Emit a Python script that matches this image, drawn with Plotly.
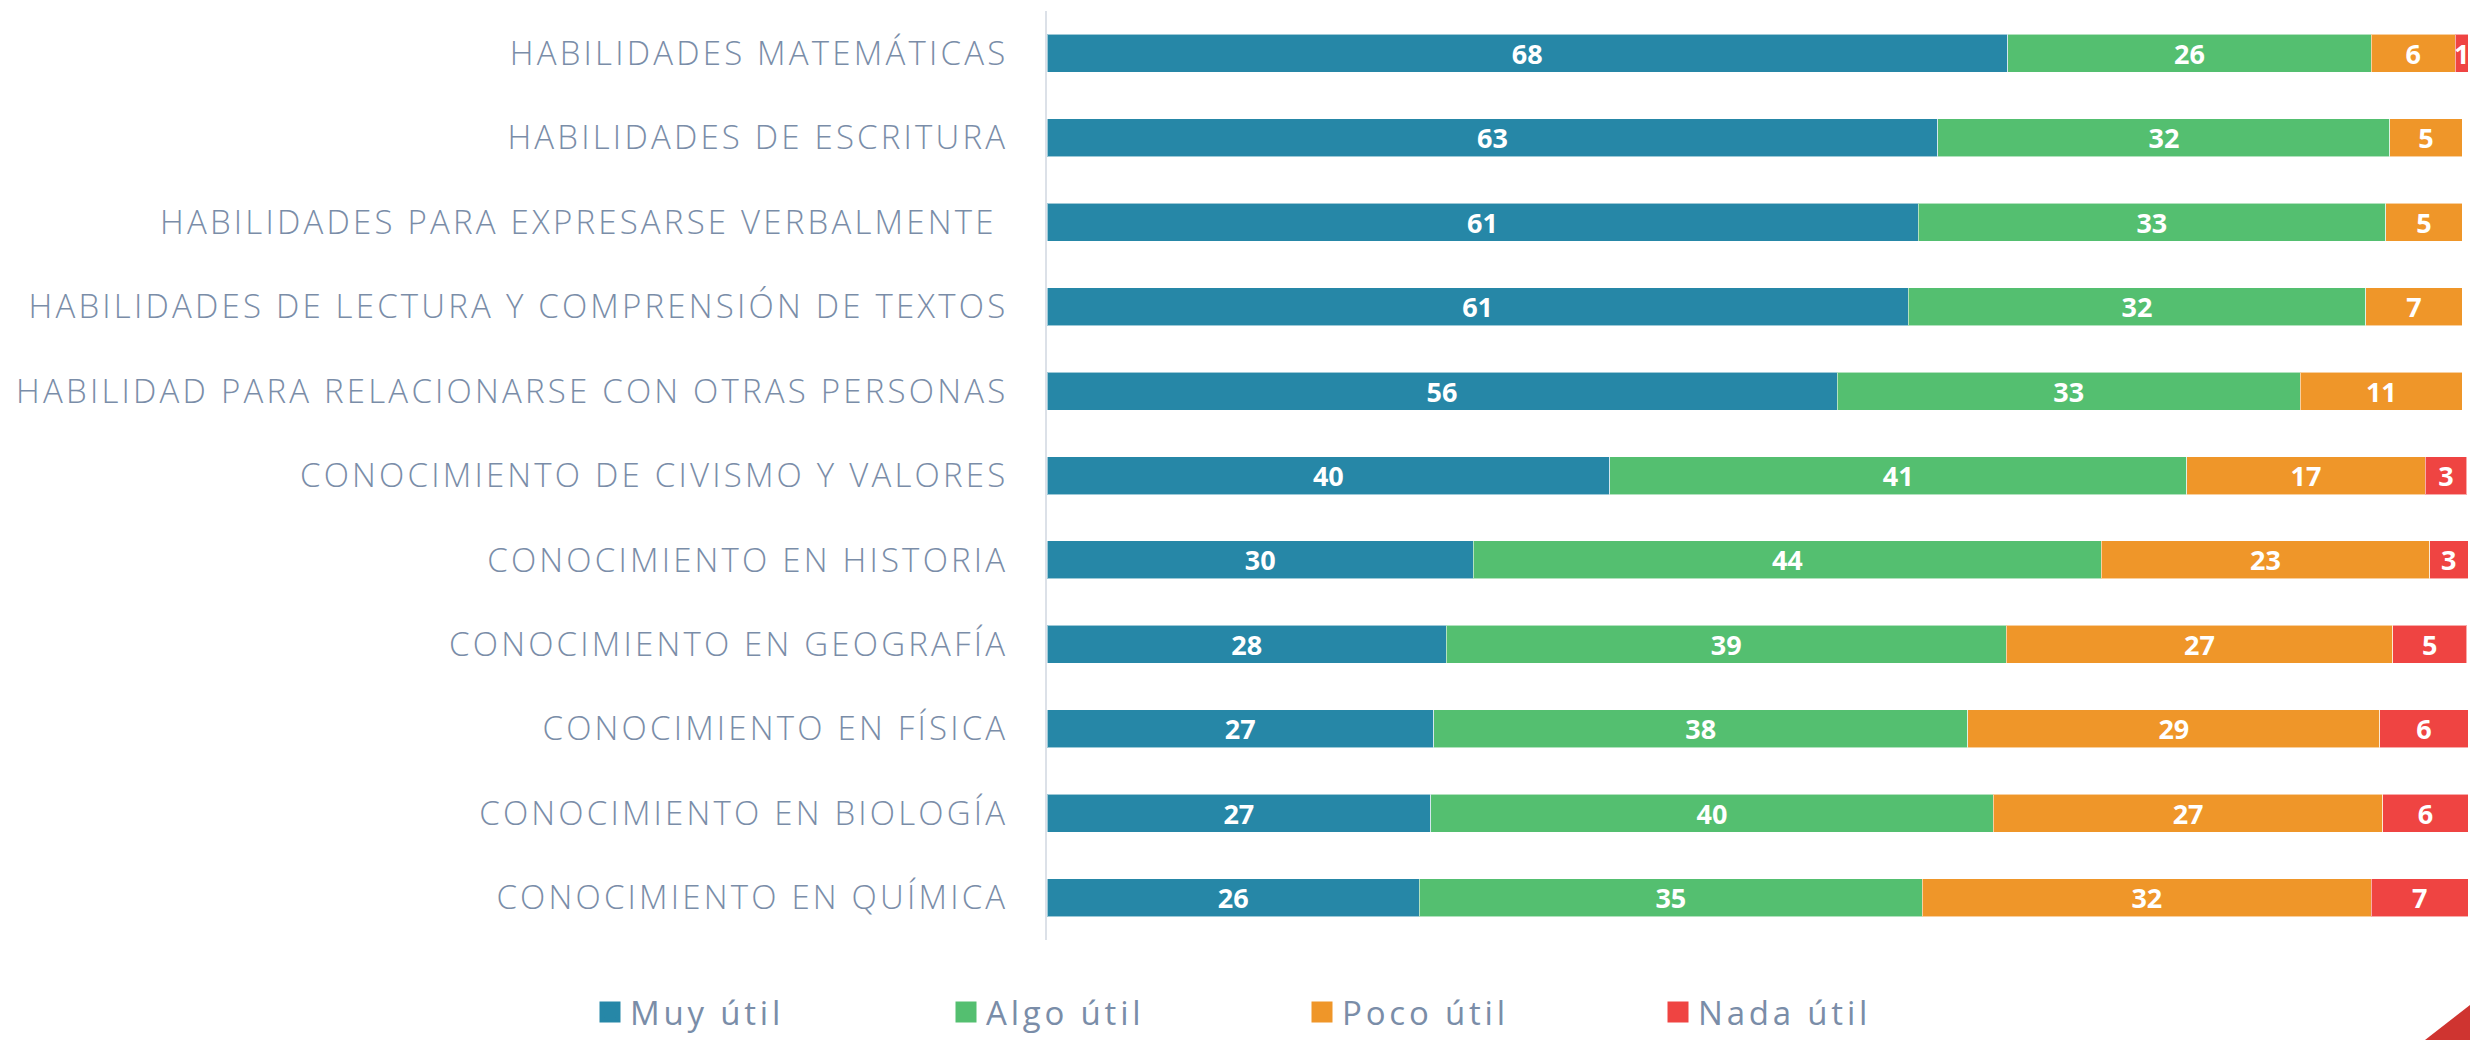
import plotly.graph_objects as go

categories = [
    "HABILIDADES MATEMÁTICAS",
    "HABILIDADES DE ESCRITURA",
    "HABILIDADES PARA EXPRESARSE VERBALMENTE ",
    "HABILIDADES DE LECTURA Y COMPRENSIÓN DE TEXTOS",
    "HABILIDAD PARA RELACIONARSE CON OTRAS PERSONAS",
    "CONOCIMIENTO DE CIVISMO Y VALORES",
    "CONOCIMIENTO EN HISTORIA",
    "CONOCIMIENTO EN GEOGRAFÍA",
    "CONOCIMIENTO EN FÍSICA",
    "CONOCIMIENTO EN BIOLOGÍA",
    "CONOCIMIENTO EN QUÍMICA",
]
series_names = ["Muy útil", "Algo útil", "Poco útil", "Nada útil"]
muy_util = [67.6, 62.7, 61.3, 60.6, 55.6, 39.6, 30.0, 28.1, 27.2, 27.0, 26.2]
algo_util = [25.6, 31.8, 32.9, 32.2, 32.6, 40.6, 44.2, 39.4, 37.6, 39.6, 35.4]
poco_util = [5.9, 5.1, 5.4, 6.8, 11.4, 16.8, 23.1, 27.2, 29.0, 27.4, 31.6]
nada_util = [0.9, 0, 0, 0, 0, 2.9, 2.7, 5.2, 6.2, 6.0, 6.8]
colors = ["#2687A7", "#54BF70", "#EF9629", "#EF4442"]

W, H = 2470, 1040
ML, MR, MT, MB = 1047, 2, 11, 100
PW, PH = W - ML - MR, H - MT - MB


def px_to_paper(px, py):
    return (px - ML) / PW, (H - MB - py) / PH


fig = go.Figure()
for name, vals, col in zip(series_names, [muy_util, algo_util, poco_util, nada_util], colors):
    fig.add_trace(go.Bar(
        y=categories, x=vals, orientation="h", name=name,
        marker=dict(color=col, line=dict(color="rgba(255,255,255,0.55)", width=1)),
        text=[f"{v:.0f}" if v > 0 else "" for v in vals],
        texttemplate="%{text}",
        textposition="inside", insidetextanchor="middle", constraintext="none",
        textangle=0,
        textfont=dict(family="Open Sans", size=27, color="white", weight="bold"),
        showlegend=False, hoverinfo="skip",
    ))
    # legend entry
    fig.add_trace(go.Scatter(
        x=[None], y=[None], mode="markers", name=name,
        marker=dict(symbol="square", size=16, color=col, line=dict(color=col, width=5)),
        showlegend=True,
    ))

lx, ly = px_to_paper(590, 1012)
tx0, ty0 = px_to_paper(2425, 1040)
tx1, ty1 = px_to_paper(2470, 1005)
tx2, ty2 = px_to_paper(2470, 1040)

fig.update_layout(
    width=W, height=H,
    margin=dict(l=ML, r=MR, t=MT, b=MB, pad=0, autoexpand=False),
    barmode="stack", bargap=0.55,
    plot_bgcolor="white", paper_bgcolor="white",
    xaxis=dict(range=[0, 100], visible=False, fixedrange=True),
    yaxis=dict(
        autorange="reversed", showgrid=False, zeroline=False,
        showline=True, linecolor="#DCE1E8", linewidth=2,
        ticks="", ticklabelstandoff=30,
        tickfont=dict(family="Open Sans", size=33, color="#7A8DA8", weight=300),
    ),
    legend=dict(
        orientation="h", x=lx, xanchor="left", y=ly, yanchor="middle",
        traceorder="normal",
        entrywidth=311, entrywidthmode="pixels",
        font=dict(family="Open Sans", size=33, color="#7A8DA8"),
        itemclick=False, itemdoubleclick=False,
    ),
    shapes=[dict(
        type="path", xref="paper", yref="paper",
        path=f"M {tx0} {ty0} L {tx1} {ty1} L {tx2} {ty2} Z",
        fillcolor="#CF3430", line=dict(width=0), layer="above",
    )],
    showlegend=True,
)

post = """
document.body.style.margin='0';
document.body.style.overflow='hidden';
document.querySelectorAll('g.ytick text, text.ytick').forEach(function(t){t.style.letterSpacing='3.2px';});
document.querySelectorAll('text.legendtext').forEach(function(t){t.style.letterSpacing='3.8px';});
"""
fig.write_html("out.html", post_script=post, config={"displayModeBar": False})
